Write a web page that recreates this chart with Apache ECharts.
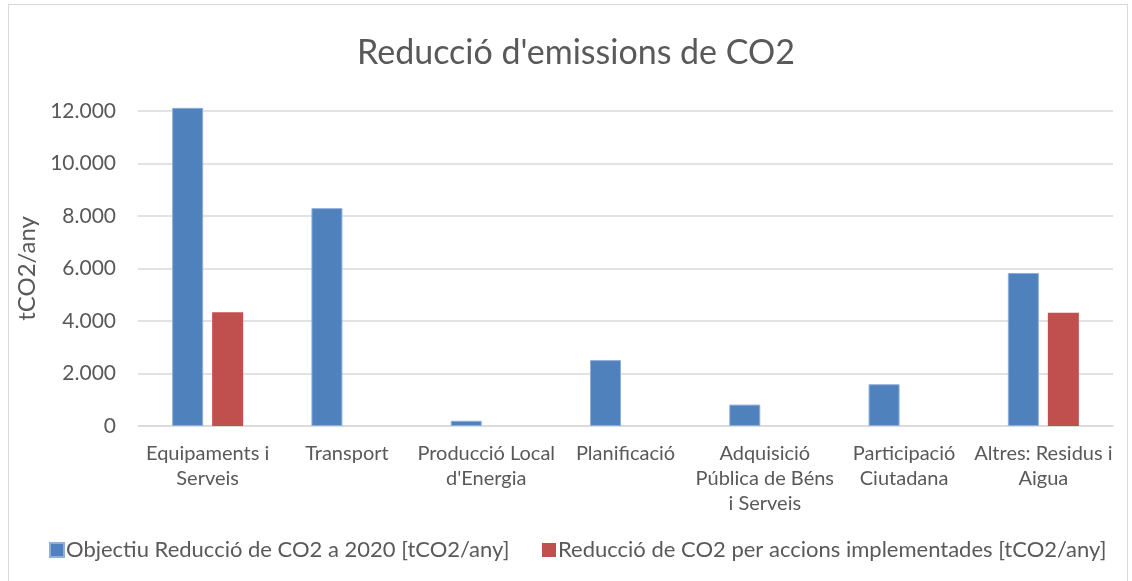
<!DOCTYPE html>
<html>
<head>
<meta charset="utf-8">
<script src="https://cdn.jsdelivr.net/npm/echarts@6/dist/echarts.min.js"></script>
<style>
  html, body { margin: 0; padding: 0; background: #fff; }
  #frame { position: absolute; left: 8px; top: 4px; width: 1120px; height: 590px; border: 1px solid #d9d9d9; box-sizing: border-box; }
  #chart { width: 1132px; height: 581px; }
</style>
</head>
<body>
<div id="frame"></div>
<div id="chart"></div>
<script>
// categories (line breaks as in the original labels)
var categories = [
  "Equipaments i\nServeis",
  "Transport",
  "Producció Local\nd'Energia",
  "Planificació",
  "Adquisició\nPública de Béns\ni Serveis",
  "Participació\nCiutadana",
  "Altres: Residus i\nAigua"
];
var seriesNames = [
  "Objectiu Reducció de CO2 a 2020 [tCO2/any]",
  "Reducció de CO2 per accions implementades [tCO2/any]"
];
var objectiu = [12120, 8300, 200, 2510, 815, 1590, 5830];
var implementades = [4330, 0, 0, 0, 0, 0, 4310];

var myChart = echarts.init(document.getElementById("chart"));

var font = "Lato, 'Open Sans', sans-serif";

var legendBase = {
  top: 539,
  padding: 0,
  itemWidth: 14,
  itemHeight: 14,
  icon: "rect",
  textStyle: { fontFamily: font, fontSize: 22, color: "#595959", padding: [0, 0, 0, -3] }
};

var option = {
  animation: false,
  title: {
    text: "Reducció d'emissions de CO2",
    left: 357,
    top: 36,
    padding: 0,
    textStyle: { fontFamily: font, fontSize: 34, fontWeight: "normal", color: "#595959" }
  },
  legend: [
    Object.assign({}, legendBase, { data: [seriesNames[0]], left: 49 }),
    Object.assign({}, legendBase, { data: [seriesNames[1]], left: 542 })
  ],
  grid: {
    left: 138,
    right: 19,
    top: 111,
    bottom: 155
  },
  xAxis: {
    type: "category",
    data: categories,
    axisLine: { lineStyle: { color: "#d9d9d9", width: 1.5 } },
    axisTick: { show: false },
    axisLabel: {
      interval: 0,
      margin: 15,
      lineHeight: 25,
      fontFamily: font,
      fontSize: 20,
      color: "#595959"
    }
  },
  yAxis: {
    type: "value",
    min: 0,
    max: 12000,
    interval: 2000,
    name: "tCO2/any",
    nameLocation: "middle",
    nameGap: 94,
    nameTextStyle: { fontFamily: font, fontSize: 24, color: "#595959" },
    axisLine: { show: false },
    axisTick: { show: false },
    splitLine: { lineStyle: { color: "#d9d9d9", width: 1.5 } },
    axisLabel: {
      margin: 22,
      fontFamily: font,
      fontSize: 21,
      color: "#595959",
      formatter: function (v) {
        return String(v).replace(/\B(?=(\d{3})+(?!\d))/g, ".");
      }
    }
  },
  series: [
    {
      name: seriesNames[0],
      type: "bar",
      data: objectiu,
      clip: false,
      barWidth: 31,
      barGap: "29%",
      itemStyle: { color: "#4f81bd", borderColor: "#8eaedb", borderWidth: 1 }
    },
    {
      name: seriesNames[1],
      type: "bar",
      data: implementades,
      clip: false,
      barWidth: 31,
      itemStyle: { color: "#c0504d" }
    }
  ]
};

myChart.setOption(option);
</script>
</body>
</html>
